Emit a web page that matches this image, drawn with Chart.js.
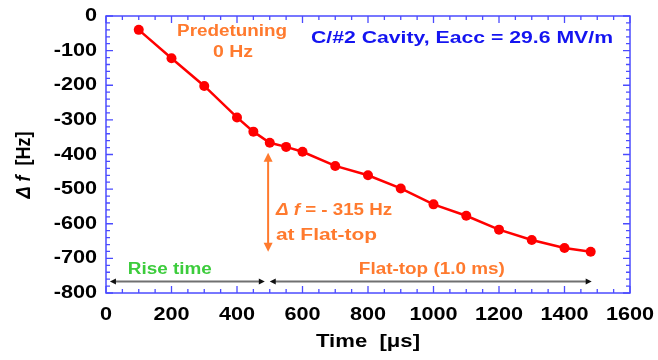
<!DOCTYPE html>
<html>
<head>
<meta charset="utf-8">
<script src="https://cdn.jsdelivr.net/npm/chart.js@4/dist/chart.umd.min.js"></script>
<style>
html,body{margin:0;padding:0;background:#fff;}
#wrap{width:658px;height:360px;position:relative;}
</style>
</head>
<body>
<div id="wrap"><canvas id="c" width="658" height="360"></canvas></div>
<script>
// ---- data ----
const timeUs = [100, 200, 300, 400, 450, 500, 550, 600, 700, 800, 900, 1000, 1100, 1200, 1300, 1400, 1480];
const detuneHz = [-40, -122, -202, -293, -334, -366, -378, -392, -433, -460, -498, -544, -577, -617, -647, -670, -681];
const xTickValues = [0, 200, 400, 600, 800, 1000, 1200, 1400, 1600];
const yTickValues = [0, -100, -200, -300, -400, -500, -600, -700, -800];
const xTitle = 'Time  [μs]';
const yTitleA = 'Δ f';
const yTitleB = '  [Hz]';
const titleText = 'C/#2 Cavity, Eacc = 29.6 MV/m';
const predetuning = ['Predetuning', '0 Hz'];
const deltaNote = ['Δ f', ' = - 315 Hz', 'at Flat-top'];
const riseLabel = 'Rise time';
const flatLabel = 'Flat-top (1.0 ms)';

const AXIS = '#4b4bff';
const ORANGE = '#ff7a2e';
const FONT = '"Liberation Sans", Arial, sans-serif';
const SX = 1.17;

function txt(ctx, s, x, y, size, color, align, opts) {
  opts = opts || {};
  ctx.save();
  ctx.font = (opts.italic ? 'italic ' : '') + 'bold ' + size + 'px ' + FONT;
  ctx.fillStyle = color;
  ctx.textBaseline = 'middle';
  const w = ctx.measureText(s).width;
  const sx = opts.width ? opts.width / w : SX;
  ctx.translate(x, y);
  if (opts.rot) ctx.rotate(opts.rot);
  ctx.scale(sx, 1);
  ctx.textAlign = align || 'center';
  ctx.fillText(s, 0, 0);
  ctx.restore();
  return w * sx;
}

function arrowHead(ctx, x, y, dir, len, half, color) {
  // dir: angle in radians pointing direction of tip
  ctx.save();
  ctx.fillStyle = color;
  ctx.translate(x, y);
  ctx.rotate(dir);
  ctx.beginPath();
  ctx.moveTo(0, 0);
  ctx.lineTo(-len, -half);
  ctx.lineTo(-len, half);
  ctx.closePath();
  ctx.fill();
  ctx.restore();
}

const framePlugin = {
  id: 'frame',
  beforeDatasetsDraw(chart) {
    const {ctx, chartArea: a, scales: {x, y}} = chart;
    ctx.save();
    ctx.strokeStyle = AXIS;
    ctx.lineWidth = 1.5;
    ctx.strokeRect(a.left, a.top, a.right - a.left, a.bottom - a.top);
    ctx.lineWidth = 1.3;
    ctx.beginPath();
    for (let v = 0; v <= 1600; v += 50) {
      const px = x.getPixelForValue(v);
      const L = (v % 200 === 0) ? 7 : 4;
      ctx.moveTo(px, a.bottom); ctx.lineTo(px, a.bottom - L);
      ctx.moveTo(px, a.top); ctx.lineTo(px, a.top + L);
    }
    for (let v = -800; v <= 0; v += 20) {
      const py = y.getPixelForValue(v);
      const L = (v % 100 === 0) ? 7 : 4;
      ctx.moveTo(a.left, py); ctx.lineTo(a.left + L, py);
      ctx.moveTo(a.right, py); ctx.lineTo(a.right - L, py);
    }
    ctx.stroke();
    ctx.restore();
    // tick labels
    xTickValues.forEach(v => txt(ctx, String(v), x.getPixelForValue(v), 315, 18.5, '#000', 'center'));
    yTickValues.forEach(v => txt(ctx, String(v), 97, y.getPixelForValue(v), 18.5, '#000', 'right'));
    // axis titles
    txt(ctx, xTitle, 368, 342, 18.5, '#000', 'center', {width: 104});
    // y title rotated: read bottom-to-top
    ctx.save();
    ctx.translate(24, 165);
    ctx.rotate(-Math.PI / 2);
    ctx.scale(1, 1.15);
    ctx.textBaseline = 'middle';
    ctx.fillStyle = '#000';
    ctx.font = 'italic bold 18px ' + FONT;
    const wa = ctx.measureText(yTitleA).width;
    ctx.font = 'bold 18px ' + FONT;
    const wb = ctx.measureText(yTitleB).width;
    const total = wa + wb;
    ctx.font = 'italic bold 18px ' + FONT;
    ctx.textAlign = 'left';
    ctx.fillText(yTitleA, -total / 2, 0);
    ctx.font = 'bold 18px ' + FONT;
    ctx.fillText(yTitleB, -total / 2 + wa, 0);
    ctx.restore();
  },
  afterDatasetsDraw(chart) {
    const {ctx, scales: {x, y}} = chart;
    // blue title
    txt(ctx, titleText, x.getPixelForValue(1087), y.getPixelForValue(-65), 16.5, '#1414f0', 'center', {width: 302});
    // predetuning
    txt(ctx, predetuning[0], x.getPixelForValue(385), y.getPixelForValue(-46), 16, ORANGE, 'center', {width: 110});
    txt(ctx, predetuning[1], x.getPixelForValue(388), y.getPixelForValue(-107), 16, ORANGE, 'center', {width: 40});
    // delta note
    let lx = x.getPixelForValue(519);
    const ly = y.getPixelForValue(-563);
    const w1 = txt(ctx, deltaNote[0], lx, ly, 16, ORANGE, 'left', {italic: true});
    txt(ctx, deltaNote[1], lx + w1, ly, 16, ORANGE, 'left');
    txt(ctx, deltaNote[2], lx, y.getPixelForValue(-635), 16, ORANGE, 'left', {width: 101});
    // vertical orange double arrow
    const ax = x.getPixelForValue(495);
    const ay1 = y.getPixelForValue(-395), ay2 = y.getPixelForValue(-681);
    ctx.save();
    ctx.strokeStyle = ORANGE; ctx.lineWidth = 2;
    ctx.beginPath(); ctx.moveTo(ax, ay1 + 6); ctx.lineTo(ax, ay2 - 6); ctx.stroke();
    ctx.restore();
    arrowHead(ctx, ax, ay1, -Math.PI / 2, 9, 4.5, ORANGE);
    arrowHead(ctx, ax, ay2, Math.PI / 2, 9, 4.5, ORANGE);
    // horizontal arrows
    const hy = y.getPixelForValue(-767);
    const segs = [[12, 485, true], [500, 1483, true]];
    segs.forEach(([a, b]) => {
      const pa = x.getPixelForValue(a), pb = x.getPixelForValue(b);
      ctx.save();
      ctx.strokeStyle = '#707070'; ctx.lineWidth = 2;
      ctx.beginPath(); ctx.moveTo(pa + 4, hy); ctx.lineTo(pb - 4, hy); ctx.stroke();
      ctx.restore();
    });
    arrowHead(ctx, x.getPixelForValue(12), hy, Math.PI, 6, 3, '#111');
    arrowHead(ctx, x.getPixelForValue(485), hy, 0, 6, 3, '#111');
    arrowHead(ctx, x.getPixelForValue(500), hy, Math.PI, 6, 3, '#111');
    arrowHead(ctx, x.getPixelForValue(1483), hy, 0, 6, 3, '#111');
    txt(ctx, riseLabel, x.getPixelForValue(195), y.getPixelForValue(-731), 16, '#3ccc3c', 'center', {width: 84});
    txt(ctx, flatLabel, x.getPixelForValue(995), y.getPixelForValue(-731), 16, ORANGE, 'center', {width: 146});
  }
};

new Chart(document.getElementById('c'), {
  type: 'line',
  data: {
    datasets: [{
      data: timeUs.map((t, i) => ({x: t, y: detuneHz[i]})),
      borderColor: '#ff0000',
      backgroundColor: '#ff0000',
      borderWidth: 2.5,
      pointRadius: 5,
      pointBorderWidth: 0,
      pointBackgroundColor: '#ff0000',
      tension: 0,
      clip: false
    }]
  },
  options: {
    responsive: false,
    animation: false,
    devicePixelRatio: 1,
    layout: {padding: {left: 106, right: 28, top: 16, bottom: 67}},
    plugins: {legend: {display: false}, tooltip: {enabled: false}},
    scales: {
      x: {type: 'linear', min: 0, max: 1600, display: false},
      y: {type: 'linear', min: -800, max: 0, display: false}
    }
  },
  plugins: [framePlugin]
});
</script>
</body>
</html>
